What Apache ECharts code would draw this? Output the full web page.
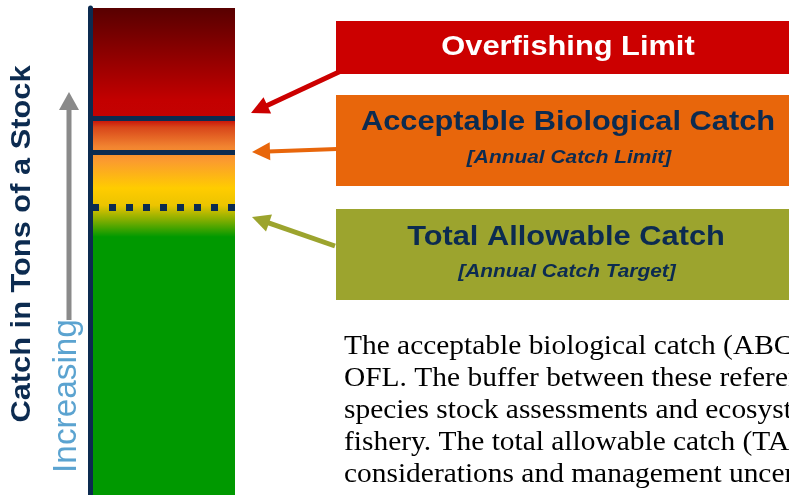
<!DOCTYPE html>
<html>
<head>
<meta charset="utf-8">
<script src="https://cdn.jsdelivr.net/npm/echarts@6/dist/echarts.min.js"></script>
<style>
  html, body { margin: 0; padding: 0; background: #fff; }
  #main { width: 789px; height: 495px; }
</style>
</head>
<body>
<div id="main"></div>
<script>
// stock column (one category, full height of the scale)
var categories = ['Stock'];
var columnValue = [100];

// reference points on the catch scale (0-100, top of column = 100)
var levelNames = ['Overfishing Limit', 'Acceptable Biological Catch', 'Total Allowable Catch'];
var levelValues = [77.4, 70.4, 59.1];
var levelSubs = ['', '[Annual Catch Limit]', '[Annual Catch Target]'];

var axisTitle = 'Catch in Tons of a Stock';
var arrowWord = 'Increasing';

var paragraph = [
  'The acceptable biological catch (ABC) is set at or below the',
  'OFL. The buffer between these reference points accounts for',
  'species stock assessments and ecosystem considerations in the',
  'fishery. The total allowable catch (TAC) is set at or below the',
  'considerations and management uncertainty.'
];

var navy = '#0c2b50';
var sans = '"Liberation Sans", Arial, sans-serif';
var serif = '"Liberation Serif", "Times New Roman", serif';

var chart = echarts.init(document.getElementById('main'));

// arrow = shaft + triangle head
function arrow(x1, y1, x2, y2, color, w) {
  var dx = x2 - x1, dy = y2 - y1;
  var len = Math.sqrt(dx * dx + dy * dy);
  var ux = dx / len, uy = dy / len;
  var hl = 18, hw = 9;
  var bx = x2 - ux * hl, by = y2 - uy * hl;
  return [
    { type: 'line', silent: true, shape: { x1: x1, y1: y1, x2: bx + ux * 2, y2: by + uy * 2 },
      style: { stroke: color, lineWidth: w } },
    { type: 'polygon', silent: true,
      shape: { points: [[x2, y2], [bx - uy * hw, by + ux * hw], [bx + uy * hw, by - ux * hw]] },
      style: { fill: color } }
  ];
}

function label(text, x, y, font, color, sx, rot) {
  return { type: 'text', silent: true, x: x, y: y, scaleX: sx || 1, rotation: rot || 0,
    style: { text: text, fill: color, font: font, align: 'center', verticalAlign: 'middle' } };
}

var boxColors = ['#cc0000', '#e8660b', '#9ca42e'];
var boxes = [
  { y: 21, h: 53 },
  { y: 95, h: 91 },
  { y: 209, h: 91 }
];
var graphics = [];
boxes.forEach(function (b, i) {
  graphics.push({ type: 'rect', silent: true, shape: { x: 336, y: b.y, width: 470, height: b.h },
    style: { fill: boxColors[i] } });
});
graphics.push(label(levelNames[0], 568, 47, 'bold 28px ' + sans, '#fff', 1.1));
graphics.push(label(levelNames[1], 568, 122, 'bold 28px ' + sans, navy, 1.1));
graphics.push(label(levelSubs[1], 569, 158, 'italic bold 19px ' + sans, navy, 1.1));
graphics.push(label(levelNames[2], 566, 237, 'bold 28px ' + sans, navy, 1.1));
graphics.push(label(levelSubs[2], 567, 272, 'italic bold 19px ' + sans, navy, 1.1));

graphics = graphics.concat(arrow(341, 71, 251, 113, boxColors[0], 5));
graphics = graphics.concat(arrow(337, 149, 252, 152, boxColors[1], 4));
graphics = graphics.concat(arrow(335, 246, 252, 217, boxColors[2], 5));

// left titles and increasing arrow
graphics.push(label(axisTitle, 22, 244, 'bold 28px ' + sans, navy, 1.1, Math.PI / 2));
graphics.push(label(arrowWord, 67, 396, '33px ' + sans, '#5ba3d0', 1.01, Math.PI / 2));
graphics.push({ type: 'line', silent: true, shape: { x1: 69, y1: 320, x2: 69, y2: 104 },
  style: { stroke: '#8a8a8a', lineWidth: 5 } });
graphics.push({ type: 'polygon', silent: true, shape: { points: [[69, 92], [59, 110], [79, 110]] },
  style: { fill: '#8a8a8a' } });

paragraph.forEach(function (line, i) {
  graphics.push({ type: 'text', silent: true, x: 344, y: 347 + i * 32, scaleX: 1.09,
    style: { text: line, fill: '#000', font: '27px ' + serif, verticalAlign: 'middle' } });
});

var refLines = levelValues.map(function (v, i) {
  return {
    name: levelNames[i],
    yAxis: v,
    lineStyle: i < 2
      ? { color: navy, width: 5, type: 'solid' }
      : { color: navy, width: 7, type: [7, 10] }
  };
});

chart.setOption({
  animation: false,
  grid: { left: 92, right: 554, top: 8, bottom: 0 },
  xAxis: { type: 'category', data: categories, show: false },
  yAxis: {
    type: 'value', min: 0, max: 100, z: 10, offset: 2,
    axisLine: { show: true, lineStyle: { color: navy, width: 5 } },
    axisTick: { show: false }, axisLabel: { show: false }, splitLine: { show: false }
  },
  series: [{
    type: 'bar',
    data: columnValue,
    barWidth: '100%',
    silent: true,
    itemStyle: {
      color: new echarts.graphic.LinearGradient(0, 0, 0, 1, [
        { offset: 0, color: '#580000' },
        { offset: 0.19, color: '#c30000' },
        { offset: 0.226, color: '#c40202' },
        { offset: 0.245, color: '#d8461a' },
        { offset: 0.285, color: '#f28430' },
        { offset: 0.315, color: '#fb9c2e' },
        { offset: 0.37, color: '#ffcc00' },
        { offset: 0.405, color: '#ecc400' },
        { offset: 0.435, color: '#84ae00' },
        { offset: 0.47, color: '#009900' },
        { offset: 1, color: '#009900' }
      ])
    },
    markLine: {
      silent: true,
      symbol: 'none',
      label: { show: false },
      data: refLines
    }
  }],
  graphic: graphics
});
</script>
</body>
</html>
